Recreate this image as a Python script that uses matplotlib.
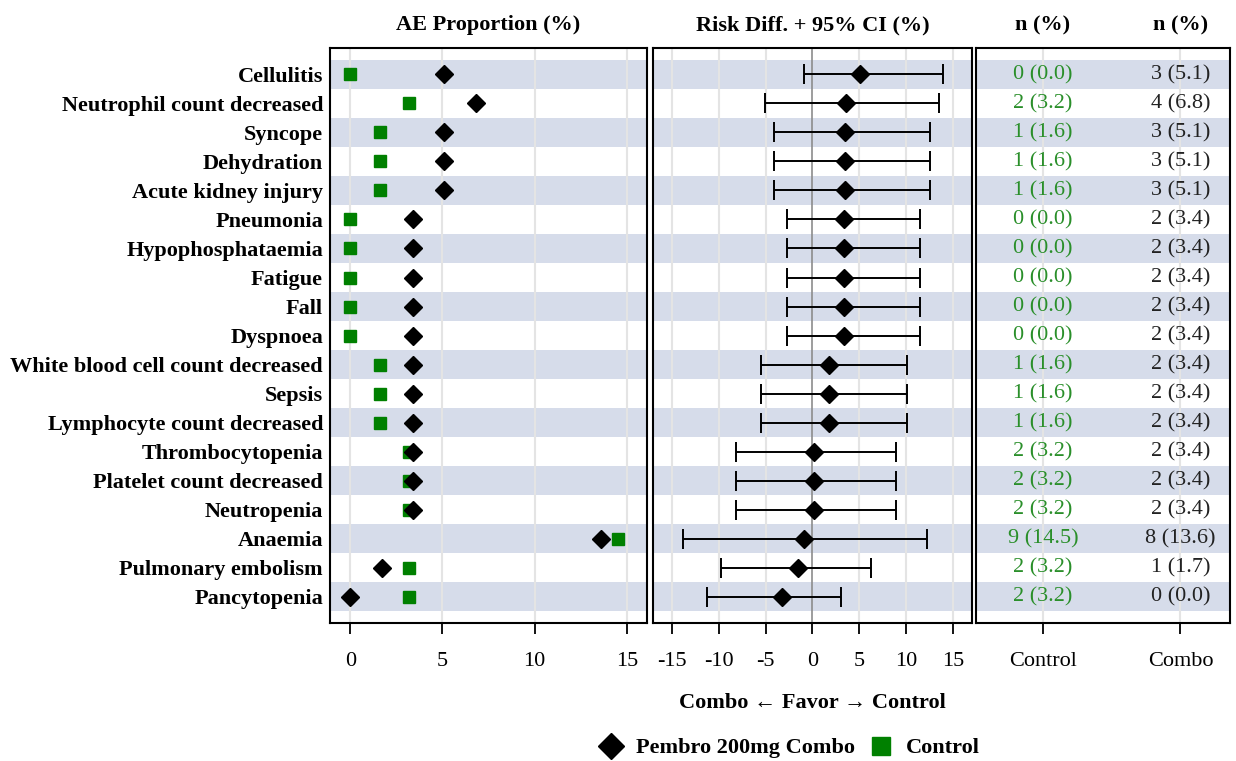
import matplotlib
matplotlib.use("Agg")
import matplotlib.pyplot as plt
from matplotlib.lines import Line2D
import numpy as np

plt.rcParams['font.family'] = ['Liberation Serif', 'DejaVu Serif']
plt.rcParams['axes.unicode_minus'] = False

terms = ['Cellulitis', 'Neutrophil count decreased', 'Syncope', 'Dehydration',
         'Acute kidney injury', 'Pneumonia', 'Hypophosphataemia', 'Fatigue',
         'Fall', 'Dyspnoea', 'White blood cell count decreased', 'Sepsis',
         'Lymphocyte count decreased', 'Thrombocytopenia', 'Platelet count decreased',
         'Neutropenia', 'Anaemia', 'Pulmonary embolism', 'Pancytopenia']
ctrl_n = [0, 2, 1, 1, 1, 0, 0, 0, 0, 0, 1, 1, 1, 2, 2, 2, 9, 2, 2]
ctrl_pct = [0.0, 3.2, 1.6, 1.6, 1.6, 0.0, 0.0, 0.0, 0.0, 0.0, 1.6, 1.6, 1.6,
            3.2, 3.2, 3.2, 14.5, 3.2, 3.2]
combo_n = [3, 4, 3, 3, 3, 2, 2, 2, 2, 2, 2, 2, 2, 2, 2, 2, 8, 1, 0]
combo_pct = [5.1, 6.8, 5.1, 5.1, 5.1, 3.4, 3.4, 3.4, 3.4, 3.4, 3.4, 3.4, 3.4,
             3.4, 3.4, 3.4, 13.6, 1.7, 0.0]
ci_lo = [-0.9, -5.1, -4.1, -4.1, -4.1, -2.7, -2.7, -2.7, -2.7, -2.7, -5.5, -5.5,
         -5.5, -8.2, -8.2, -8.2, -13.8, -9.7, -11.2]
ci_hi = [13.9, 13.5, 12.5, 12.5, 12.5, 11.5, 11.5, 11.5, 11.5, 11.5, 10.1, 10.1,
         10.1, 8.9, 8.9, 8.9, 12.2, 6.2, 3.0]
col_labels = ['Control', 'Combo']

ctrl_pct = np.array(ctrl_pct)
combo_pct = np.array(combo_pct)
risk_diff = combo_pct - ctrl_pct
y = np.arange(len(terms))

BAND = '#d6dcea'
GREEN = '#008000'
GREEN_TXT = '#2a8f2a'
GRID = '#e4e4e4'
FS = 16

fig = plt.figure(figsize=(12.36, 7.61), dpi=100)
bottom, height = 0.1813, 0.7556
ax1 = fig.add_axes([0.2670, bottom, 0.2565, height])
ax2 = fig.add_axes([0.5283, bottom, 0.2581, height])
ax3 = fig.add_axes([0.7896, bottom, 0.2055, height])

for ax in (ax1, ax2, ax3):
    ax.set_ylim(len(terms) - 0.09, -0.91)
    for i in y[::2]:
        ax.axhspan(i - 0.5, i + 0.5, color=BAND, lw=0, zorder=0)
    for s in ax.spines.values():
        s.set_linewidth(1.5)
    ax.tick_params(axis='x', direction='out', length=8, width=1.3, pad=13,
                   labelsize=FS)
    ax.tick_params(axis='y', length=0)
    ax.set_yticks([])

# AE proportion panel
ax1.set_xlim(-1.1, 16.1)
ax1.set_xticks([0, 5, 10, 15])
for xv in [0, 5, 10, 15]:
    ax1.axvline(xv, color=GRID, lw=1.5, zorder=1)
ax1.plot(ctrl_pct, y, 's', color=GREEN, ms=8, zorder=3)
ax1.plot(combo_pct, y, 'D', color='black', ms=9.5, zorder=4)
ax1.set_yticks(y)
ax1.set_yticklabels(terms, fontsize=FS, fontweight='bold')
ax1.tick_params(axis='y', pad=5)
ax1.text(0.5, 1.04, 'AE Proportion (%)', transform=ax1.transAxes,
         ha='center', va='center', fontsize=FS, fontweight='bold')

# risk difference panel
ax2.set_xlim(-17, 17)
ax2.set_xticks([-15, -10, -5, 0, 5, 10, 15])
for xv in [-15, -10, -5, 5, 10, 15]:
    ax2.axvline(xv, color=GRID, lw=1.5, zorder=1)
ax2.axvline(0, color='#8c8c8c', lw=1.2, zorder=2)
ax2.errorbar(risk_diff, y,
             xerr=[risk_diff - np.array(ci_lo), np.array(ci_hi) - risk_diff],
             fmt='D', color='black', ms=9.5, ecolor='black', elinewidth=1.4,
             capsize=7, capthick=1.4, zorder=4)
ax2.text(0.5, 1.04, 'Risk Diff. + 95% CI (%)', transform=ax2.transAxes,
         ha='center', va='center', fontsize=FS, fontweight='bold')
ax2.set_xlabel('Combo \u2190 Favor \u2192 Control', fontsize=FS,
               fontweight='bold', labelpad=16)

# counts table panel
ax3.set_xlim(-0.486, 1.36)
ax3.set_xticks([0, 1])
ax3.set_xticklabels(col_labels)
for xv in [0, 1]:
    ax3.axvline(xv, color=GRID, lw=1.5, zorder=1)
for i in y:
    ax3.text(0, i, f'{ctrl_n[i]} ({ctrl_pct[i]:.1f})', ha='center', va='center',
             fontsize=FS, color=GREEN_TXT, zorder=3)
    ax3.text(1, i, f'{combo_n[i]} ({combo_pct[i]:.1f})', ha='center', va='center',
             fontsize=FS, color='#222222', zorder=3)
for xv in [0, 1]:
    ax3.text(xv, 1.04, 'n (%)', transform=ax3.get_xaxis_transform(),
             ha='center', va='center', fontsize=FS, fontweight='bold')

handles = [
    Line2D([], [], marker='D', color='black', ls='none', ms=13),
    Line2D([], [], marker='s', color=GREEN, ls='none', ms=13),
]
fig.legend(handles, ['Pembro 200mg Combo', 'Control'], loc='center',
           bbox_to_anchor=(790 / 1236, 1 - 748 / 761), ncol=2, frameon=False,
           prop={'size': FS, 'weight': 'bold'}, handletextpad=0.6,
           columnspacing=0.7, handlelength=1.0)

fig.savefig('out.png', dpi=100)
